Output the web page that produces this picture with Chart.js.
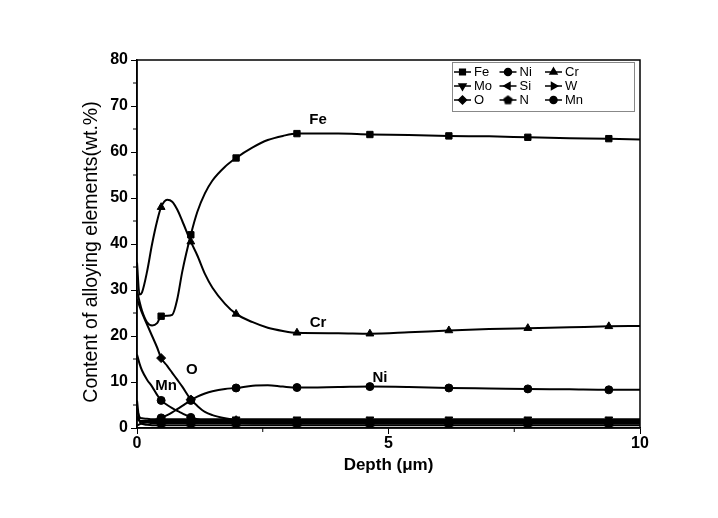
<!DOCTYPE html>
<html>
<head>
<meta charset="utf-8">
<script src="https://cdn.jsdelivr.net/npm/chart.js@4"></script>
<style>
  body { margin: 0; background: #fff; }
  #wrap { width: 718px; height: 518px; }
</style>
</head>
<body>
<div id="wrap"><canvas id="depthchart" width="718" height="518"></canvas></div>
<script>
// depth profile
const depth = [0, 0.05, 0.1, 0.2, 0.3, 0.4, 0.48, 0.6, 0.7, 0.8, 0.9, 1.07, 1.2, 1.35, 1.5, 1.75, 1.97, 2.3, 2.6, 2.9, 3.18, 4.0, 4.63, 5.4, 6.2, 7.0, 7.77, 8.6, 9.38, 10];
const markerDepths = [0.48, 1.07, 1.97, 3.18, 4.63, 6.2, 7.77, 9.38];

const fe = [30, 27.5, 25.5, 23, 22.3, 22.8, 24.3, 24.4, 24.6, 28, 34, 42, 47, 51, 53.8, 56.8, 58.7, 61, 62.6, 63.5, 64, 64, 63.8, 63.7, 63.5, 63.4, 63.2, 63, 62.9, 62.7];
const ni = [0.5, 0.8, 1, 1.3, 1.6, 1.9, 2.2, 2.8, 3.4, 4.1, 4.8, 6, 6.8, 7.5, 8, 8.5, 8.7, 9.2, 9.3, 9, 8.8, 8.9, 9, 8.9, 8.7, 8.6, 8.5, 8.4, 8.3, 8.3];
const cr = [36, 29, 29.5, 34, 40, 45, 48, 49.6, 49.2, 47.5, 45, 40.5, 37.5, 33.5, 30.5, 27, 24.8, 23, 21.8, 21.1, 20.7, 20.6, 20.5, 20.8, 21.2, 21.5, 21.7, 21.9, 22.1, 22.2];
const mo = [4, 2.4, 2.1, 2, 1.9, 1.9, 1.9, 1.9, 1.9, 1.9, 1.9, 1.9, 1.9, 1.9, 1.9, 1.9, 1.9, 1.9, 1.9, 1.9, 1.9, 1.9, 1.9, 1.9, 1.9, 1.9, 1.9, 1.9, 1.9, 1.9];
const si = [2.5, 1.6, 1.3, 1.2, 1.1, 1.1, 1.1, 1.1, 1.1, 1.1, 1.1, 1.1, 1.1, 1.1, 1.1, 1.1, 1.1, 1.1, 1.1, 1.1, 1.1, 1.1, 1.1, 1.1, 1.1, 1.1, 1.1, 1.1, 1.1, 1.1];
const w = [2, 1.6, 1.5, 1.5, 1.5, 1.5, 1.5, 1.5, 1.5, 1.5, 1.5, 1.5, 1.5, 1.5, 1.5, 1.5, 1.5, 1.5, 1.5, 1.5, 1.5, 1.5, 1.5, 1.5, 1.5, 1.5, 1.5, 1.5, 1.5, 1.5];
const o = [28, 26.5, 25, 22.5, 20, 17.5, 15.2, 13.5, 12, 10.5, 9, 6.2, 4.8, 3.5, 2.8, 2.1, 1.7, 1.5, 1.4, 1.3, 1.3, 1.3, 1.3, 1.3, 1.3, 1.3, 1.3, 1.3, 1.3, 1.3];
const n = [6, 1.5, 0.9, 0.7, 0.6, 0.6, 0.6, 0.6, 0.6, 0.6, 0.6, 0.6, 0.6, 0.6, 0.6, 0.6, 0.6, 0.6, 0.6, 0.6, 0.6, 0.6, 0.6, 0.6, 0.6, 0.6, 0.6, 0.6, 0.6, 0.6];
const mn = [16, 14, 12.5, 10.5, 9, 7.2, 6, 5, 4.3, 3.7, 3.2, 2.3, 1.9, 1.6, 1.4, 1.2, 1.1, 1, 1, 1, 1, 1, 1, 1, 1, 1, 1, 1, 1, 1];

const yTicks = [0, 10, 20, 30, 40, 50, 60, 70, 80];
const xTicks = [0, 5, 10];

const FONT = '"Liberation Sans", Arial, sans-serif';

// pentagon marker for N
const pentagon = document.createElement('canvas');
pentagon.width = 11; pentagon.height = 11;
(function() {
  const c = pentagon.getContext('2d');
  c.fillStyle = '#000';
  c.beginPath();
  for (let i = 0; i < 5; i++) {
    const a = -Math.PI / 2 + i * 2 * Math.PI / 5;
    const px = 5.5 + 5 * Math.cos(a), py = 5.8 + 5 * Math.sin(a);
    i ? c.lineTo(px, py) : c.moveTo(px, py);
  }
  c.closePath();
  c.fill();
})();

const series = [
  { label: 'Fe', values: fe, style: 'rect', rot: 0, r: 4.5 },
  { label: 'Ni', values: ni, style: 'circle', rot: 0, r: 4 },
  { label: 'Cr', values: cr, style: 'triangle', rot: 0, r: 4.5 },
  { label: 'Mo', values: mo, style: 'triangle', rot: 180, r: 4.5 },
  { label: 'Si', values: si, style: 'triangle', rot: -90, r: 4.5 },
  { label: 'W', values: w, style: 'triangle', rot: 90, r: 4.5 },
  { label: 'O', values: o, style: 'rectRot', rot: 0, r: 4.5 },
  { label: 'N', values: n, style: pentagon, rot: 0, r: 4.5 },
  { label: 'Mn', values: mn, style: 'circle', rot: 0, r: 4 }
];

const datasets = series.map(s => ({
  label: s.label,
  data: depth.map((d, i) => ({ x: d, y: s.values[i] })),
  borderColor: '#000',
  backgroundColor: '#000',
  borderWidth: 2,
  cubicInterpolationMode: 'monotone',
  pointStyle: s.style,
  rotation: s.rot,
  pointRadius: ctx => markerDepths.includes(depth[ctx.dataIndex]) ? s.r : 0,
  pointBorderWidth: 1
}));

const curveLabels = [
  { text: 'Fe', x: 3.6, y: 67 },
  { text: 'Cr', x: 3.6, y: 22.8 },
  { text: 'Ni', x: 4.83, y: 10.9 },
  { text: 'O', x: 1.09, y: 12.6 },
  { text: 'Mn', x: 0.58, y: 9.1 }
];

const framePlugin = {
  id: 'frame',
  afterDraw(chart) {
    const { ctx, chartArea: a, scales } = chart;
    ctx.save();
    ctx.strokeStyle = '#000';
    ctx.lineWidth = 1.5;
    ctx.strokeRect(a.left, a.top, a.right - a.left, a.bottom - a.top);

    // minor ticks
    ctx.lineWidth = 1;
    ctx.beginPath();
    for (let v = 5; v < 80; v += 10) {
      const py = scales.y.getPixelForValue(v);
      ctx.moveTo(a.left - 4, py); ctx.lineTo(a.left, py);
    }
    [2.5, 7.5].forEach(v => {
      const px = scales.x.getPixelForValue(v);
      ctx.moveTo(px, a.bottom); ctx.lineTo(px, a.bottom + 4);
    });
    ctx.stroke();

    // y axis title (sits a bit below the axis middle in the original)
    ctx.fillStyle = '#000';
    ctx.save();
    ctx.translate(92, 252);
    ctx.rotate(-Math.PI / 2);
    ctx.font = '19.5px ' + FONT;
    ctx.textAlign = 'center';
    ctx.textBaseline = 'middle';
    ctx.fillText('Content of alloying elements(wt.%)', 0, 0);
    ctx.restore();

    // curve labels
    ctx.font = 'bold 15px ' + FONT;
    ctx.textAlign = 'center';
    ctx.textBaseline = 'middle';
    curveLabels.forEach(l => {
      ctx.fillText(l.text, scales.x.getPixelForValue(l.x), scales.y.getPixelForValue(l.y));
    });

    // legend box
    const bx = 452, by = 62, bw = 182, bh = 49;
    ctx.fillStyle = '#fff';
    ctx.fillRect(bx, by, bw, bh);
    ctx.strokeStyle = '#888';
    ctx.lineWidth = 1;
    ctx.strokeRect(bx + 0.5, by + 0.5, bw, bh);
    ctx.font = '13px ' + FONT;
    ctx.textAlign = 'left';
    series.forEach((s, i) => {
      const col = i % 3, row = Math.floor(i / 3);
      const x0 = bx + 2 + col * 45.5, y0 = by + 10 + row * 14;
      ctx.strokeStyle = '#000';
      ctx.lineWidth = 1.5;
      ctx.beginPath();
      ctx.moveTo(x0, y0); ctx.lineTo(x0 + 17, y0);
      ctx.stroke();
      ctx.fillStyle = '#000';
      Chart.helpers.drawPoint(ctx, {
        pointStyle: s.style, rotation: s.rot, radius: s.r - 0.5, borderWidth: 1
      }, x0 + 8.5, y0);
      ctx.fillStyle = '#000';
      ctx.fillText(s.label, x0 + 20, y0 + 0.5);
    });
    ctx.restore();
  }
};

new Chart(document.getElementById('depthchart').getContext('2d'), {
  type: 'line',
  data: { datasets },
  options: {
    responsive: false,
    animation: false,
    layout: { padding: { left: 80, right: 78, top: 60, bottom: 40 } },
    plugins: { legend: { display: false }, tooltip: { enabled: false } },
    scales: {
      x: {
        type: 'linear',
        min: 0, max: 10,
        afterBuildTicks: s => { s.ticks = xTicks.map(v => ({ value: v })); },
        afterFit: s => { s.height = 50; },
        border: { color: '#000', width: 1.5 },
        grid: { drawOnChartArea: false, color: '#000', tickLength: 6, tickWidth: 1 },
        ticks: { color: '#000', font: { family: FONT, size: 16, weight: 'bold' }, padding: 0, maxRotation: 0 },
        title: { display: true, text: 'Depth (μm)', color: '#000', font: { family: FONT, size: 17, weight: 'bold' }, padding: { top: 0, bottom: 2 } }
      },
      y: {
        type: 'linear',
        min: 0, max: 80,
        afterBuildTicks: s => { s.ticks = yTicks.map(v => ({ value: v })); },
        afterFit: s => { s.width = 57; },
        border: { color: '#000', width: 1.5 },
        grid: { drawOnChartArea: false, color: '#000', tickLength: 6, tickWidth: 1 },
        ticks: { color: '#000', font: { family: FONT, size: 16, weight: 'bold' }, padding: 3 }
      }
    }
  },
  plugins: [framePlugin]
});
</script>
</body>
</html>
